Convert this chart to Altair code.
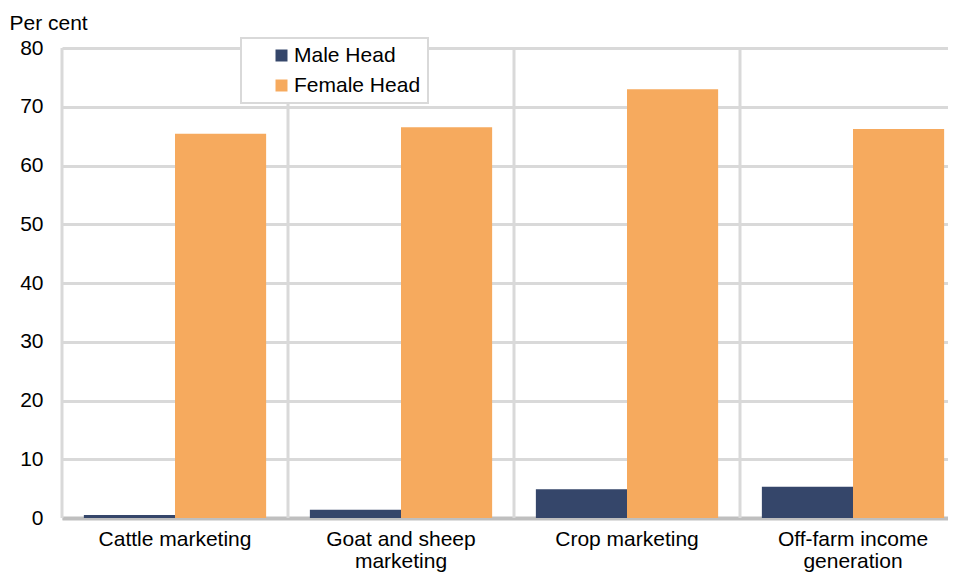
import altair as alt
import pandas as pd

categories = ["Cattle marketing", "Goat and sheep marketing", "Crop marketing", "Off-farm income generation"]
series = ["Male Head", "Female Head"]
male = [0.5, 1.4, 4.9, 5.3]
female = [65.4, 66.5, 73.0, 66.2]
y_ticks = [0, 10, 20, 30, 40, 50, 60, 70, 80]
colors = ["#35466a", "#f6aa5e"]

rows = []
for c, m, f in zip(categories, male, female):
    rows.append({"cat": c, "series": series[0], "value": m})
    rows.append({"cat": c, "series": series[1], "value": f})
df = pd.DataFrame(rows)
cat_df = pd.DataFrame({"cat": categories})

FONT = "Liberation Sans"
x_scale = alt.Scale(domain=categories, range=[0, 904], paddingInner=0, paddingOuter=0)

label_expr = (
    "datum.label == 'Goat and sheep marketing' ? ['Goat and sheep', 'marketing'] : "
    "datum.label == 'Off-farm income generation' ? ['Off-farm income', 'generation'] : datum.label"
)

x_axis = alt.Axis(
    title=None, labelExpr=label_expr, labelAngle=0, labelFont=FONT, labelFontSize=21,
    labelColor="#000000", labelPadding=10, labelLineHeight=22, ticks=False, tickSize=0,
    domainColor="#bfbfbf", domainWidth=4, grid=False, labelLimit=400,
)

y_axis = alt.Axis(
    values=y_ticks, title="Per cent", titleAngle=0, titleX=-53, titleY=-19,
    titleAlign="left", titleBaseline="alphabetic", titleFont=FONT, titleFontSize=21,
    titleFontWeight="normal", titleColor="#000000", labelFont=FONT, labelFontSize=21,
    labelColor="#000000", labelPadding=19, ticks=False, tickSize=0, domain=False,
    grid=True, gridColor="#d9d9d9", gridWidth=3,
)

legend = alt.Legend(
    title=None, orient="none", legendX=179, legendY=-10, fillColor="#ffffff",
    strokeColor="#d9d9d9", padding=7, symbolOffset=23,
    symbolType="square", symbolSize=144, symbolStrokeWidth=0, labelFont=FONT,
    labelFontSize=21, labelColor="#000000", labelOffset=2, rowPadding=8,
)

grid = alt.Chart(cat_df).mark_rule(color="#d9d9d9", strokeWidth=3).encode(
    x=alt.X("cat:N", bandPosition=0, scale=x_scale, sort=categories, axis=x_axis),
)

bars = alt.Chart(df).mark_bar().encode(
    x=alt.X("cat:N", scale=x_scale, sort=categories, axis=x_axis),
    xOffset=alt.XOffset("series:N", sort=series, scale=alt.Scale(domain=series, paddingInner=0, paddingOuter=0.24)),
    y=alt.Y("value:Q", scale=alt.Scale(domain=[0, 80], nice=False), axis=y_axis),
    color=alt.Color("series:N", sort=series, scale=alt.Scale(domain=series, range=colors), legend=legend),
)

chart = alt.layer(grid, bars).properties(
    width=886, height=470,
    autosize=alt.AutoSizeParams(type="none"),
    padding={"left": 54, "top": 40, "right": 0, "bottom": 56},
).configure_view(stroke=None).configure_legend(strokeWidth=2)

chart.save("out.html", embed_options={"renderer": "svg", "actions": False})
